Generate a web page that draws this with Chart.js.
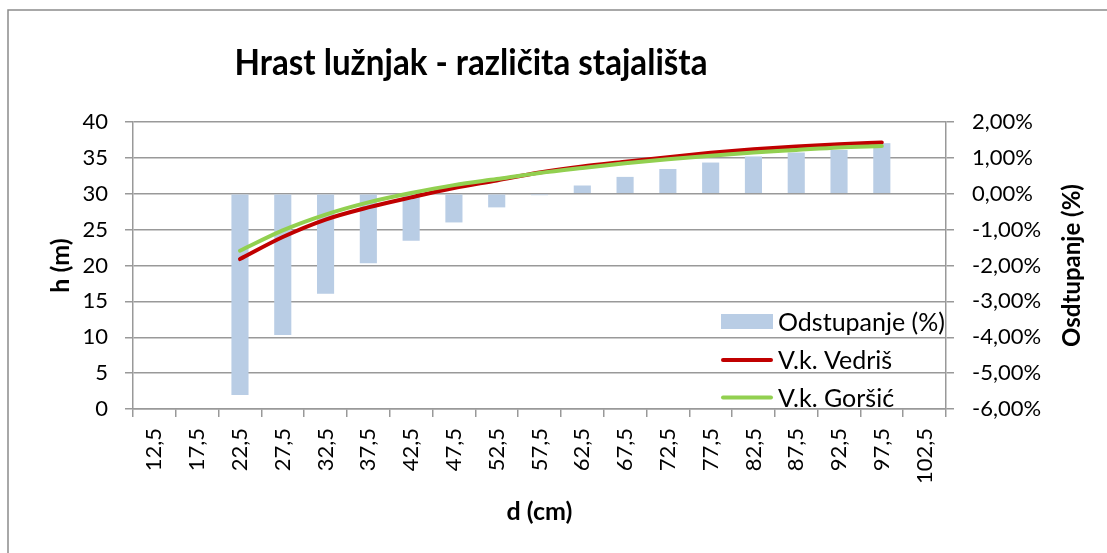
<!DOCTYPE html>
<html>
<head>
<meta charset="utf-8">
<script src="https://cdn.jsdelivr.net/npm/chart.js@4.4.1/dist/chart.umd.min.js"></script>
<style>
html,body{margin:0;padding:0;background:#fff;overflow:hidden}
#wrap{width:1107px;height:553px;position:relative}
</style>
</head>
<body>
<div id="wrap"><canvas id="c" width="1107" height="553"></canvas></div>
<script>
const chartTitle = 'Hrast lužnjak - različita stajališta';
const xTitle = 'd (cm)';
const yTitle = 'h (m)';
const y1Title = 'Osdtupanje (%)';
const categories = ['12,5','17,5','22,5','27,5','32,5','37,5','42,5','47,5','52,5','57,5','62,5','67,5','72,5','77,5','82,5','87,5','92,5','97,5','102,5'];
const seriesNames = ['Odstupanje (%)','V.k. Vedriš','V.k. Goršić'];
const odstupanje = [null,null,-0.0561,-0.0394,-0.0279,-0.0194,-0.0131,-0.0080,-0.0038,-0.0004,0.0023,0.0047,0.0069,0.0087,0.0104,0.0115,0.0122,0.0141,null];
const vedris = [null,null,20.9,23.97,26.4,28.1,29.5,30.8,31.85,32.95,33.8,34.45,35.1,35.7,36.2,36.6,36.9,37.15,null];
const gorsic = [null,null,22.06,24.9,27.1,28.8,30.1,31.2,32.05,32.9,33.6,34.25,34.8,35.3,35.75,36.1,36.45,36.65,null];
const leftMin = 0, leftMax = 40, leftStep = 5;
const rightMin = -0.06, rightMax = 0.02, rightStep = 0.01;

const FONT = 'Lato, "Open Sans", sans-serif';
const GRID = '#999999';
const colors = ['#B9CDE5', '#C00000', '#92D050'];

const decorPlugin = {
  id: 'decor',
  beforeDraw(chart) {
    const ctx = chart.ctx;
    ctx.save();
    ctx.strokeStyle = '#8c8c8c';
    ctx.lineWidth = 1.5;
    ctx.beginPath();
    ctx.moveTo(8, 553); ctx.lineTo(8, 10); ctx.lineTo(1107, 10);
    ctx.stroke();
    ctx.fillStyle = '#000';
    ctx.font = 'bold 37px ' + FONT;
    ctx.textAlign = 'center';
    ctx.textBaseline = 'alphabetic';
    const tw = ctx.measureText(chartTitle).width;
    const sx = Math.min(1, 473 / tw);
    ctx.translate(471, 75);
    ctx.scale(sx, 1);
    ctx.fillText(chartTitle, 0, 0);
    ctx.restore();
  },
  afterDraw(chart) {
    const ctx = chart.ctx;
    const ca = chart.chartArea;
    ctx.save();
    // right axis title, reading bottom-to-top
    ctx.fillStyle = '#000';
    ctx.font = 'bold 24px ' + FONT;
    ctx.translate(1072, (ca.top + ca.bottom) / 2);
    ctx.rotate(-Math.PI / 2);
    ctx.textAlign = 'center';
    ctx.textBaseline = 'middle';
    ctx.fillText(y1Title, 0, 0);
    ctx.restore();
    // legend inside plot
    ctx.save();
    const rowsY = [321.5, 360, 397.5];
    const x0 = 721, w = 52;
    ctx.font = '25px ' + FONT;
    ctx.textAlign = 'left';
    ctx.textBaseline = 'middle';
    chart.data.datasets.forEach((ds, i) => {
      const y = rowsY[i];
      if (ds.type === 'bar') {
        ctx.fillStyle = ds.backgroundColor;
        ctx.fillRect(x0, y - 7.5, w, 15);
      } else {
        ctx.strokeStyle = ds.borderColor;
        ctx.lineWidth = 4;
        ctx.lineCap = 'round';
        ctx.beginPath();
        ctx.moveTo(x0 + 2, y); ctx.lineTo(x0 + w - 2, y);
        ctx.stroke();
      }
      ctx.fillStyle = '#000';
      ctx.fillText(ds.label, x0 + w + 5, y + 1);
    });
    ctx.restore();
  }
};

new Chart(document.getElementById('c'), {
  data: {
    labels: categories,
    datasets: [
      { type: 'bar', label: seriesNames[0], data: odstupanje, yAxisID: 'y1', backgroundColor: colors[0],
        barPercentage: 0.4, categoryPercentage: 1.0, order: 3 },
      { type: 'line', label: seriesNames[1], data: vedris, yAxisID: 'y', borderColor: colors[1], backgroundColor: colors[1],
        borderWidth: 4, pointRadius: 0, cubicInterpolationMode: 'monotone', borderCapStyle: 'round', order: 2 },
      { type: 'line', label: seriesNames[2], data: gorsic, yAxisID: 'y', borderColor: colors[2], backgroundColor: colors[2],
        borderWidth: 4, pointRadius: 0, cubicInterpolationMode: 'monotone', borderCapStyle: 'round', order: 1 }
    ]
  },
  options: {
    responsive: false,
    animation: false,
    devicePixelRatio: 1,
    layout: { padding: { top: 122, left: 42, right: 19, bottom: 22 } },
    plugins: { legend: { display: false }, title: { display: false }, tooltip: { enabled: false } },
    scales: {
      x: {
        type: 'category', offset: true,
        grid: { offset: true, drawOnChartArea: false, drawTicks: true, tickLength: 8, color: GRID, lineWidth: 1.5 },
        border: { color: GRID, width: 1.5 },
        ticks: { minRotation: 90, maxRotation: 90, autoSkip: false, padding: 11, color: '#000', font: { family: FONT, size: 22 } },
        title: { display: true, text: xTitle, color: '#000', font: { family: FONT, size: 25, weight: 'bold' } },
        afterFit(s) { s.height = 122; }
      },
      y: {
        position: 'left', min: leftMin, max: leftMax,
        grid: { color: GRID, lineWidth: 1.5, tickLength: 8 },
        border: { color: GRID, width: 1.5 },
        ticks: { stepSize: leftStep, padding: 17, color: '#000', font: { family: FONT, size: 22 } },
        title: { display: true, text: yTitle, color: '#000', font: { family: FONT, size: 25, weight: 'bold' } },
        afterFit(s) { s.width = 91; }
      },
      y1: {
        position: 'right', min: rightMin, max: rightMax,
        grid: { drawOnChartArea: false, color: GRID, lineWidth: 1.5, tickLength: 8 },
        border: { color: GRID, width: 1.5 },
        ticks: { stepSize: rightStep, padding: 18, color: '#000', font: { family: FONT, size: 22 },
          callback: v => (Math.round(v * 10000) / 100).toFixed(2).replace('.', ',') + '%' },
        afterFit(s) { s.width = 142; }
      }
    }
  },
  plugins: [decorPlugin]
});
</script>
</body>
</html>
